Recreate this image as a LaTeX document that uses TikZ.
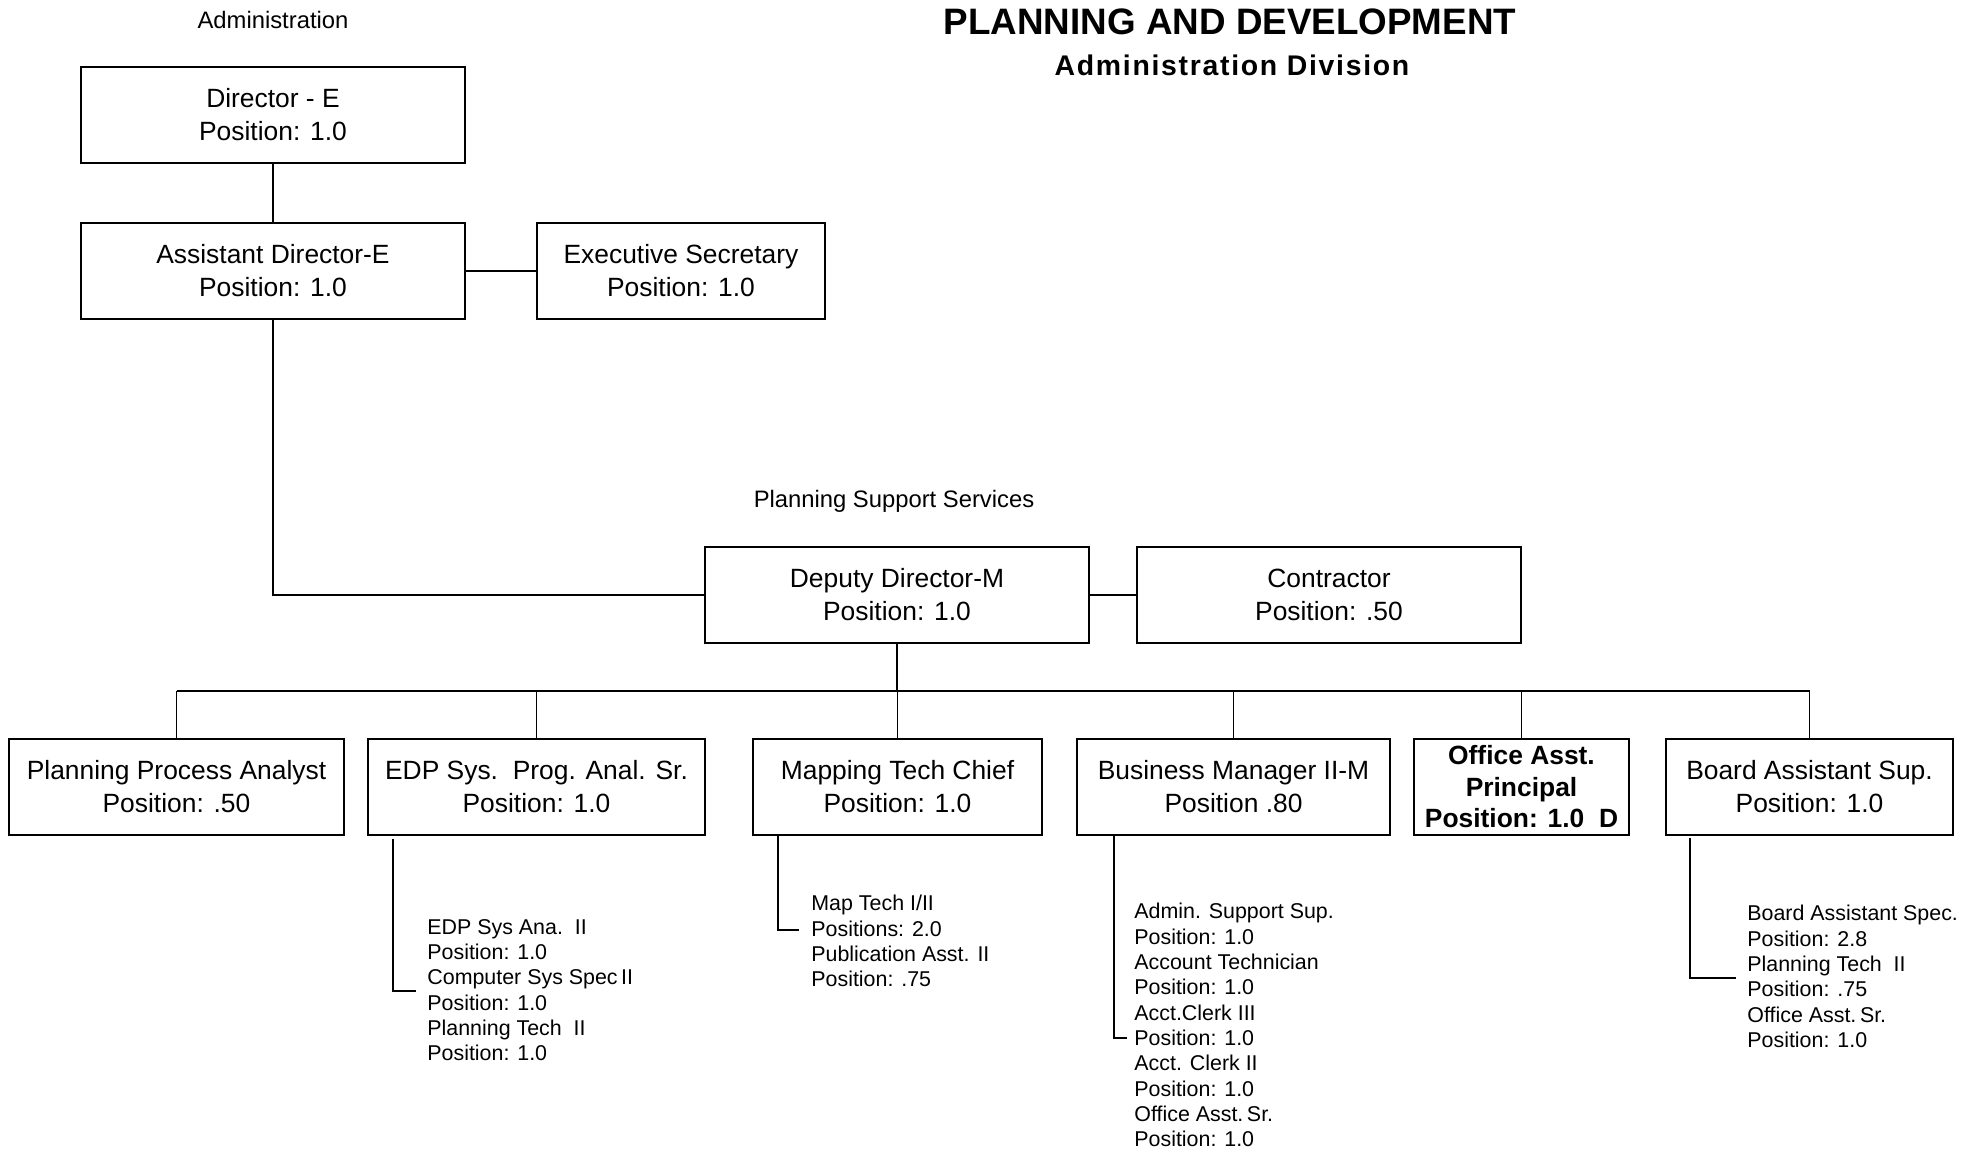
\documentclass[tikz,border=0pt]{standalone}
\usepackage{fontspec}
\setmainfont{Liberation Sans}
\newfontfamily\spacedbold[LetterSpace=6]{Liberation Sans}
\usetikzlibrary{calc}
\tikzset{
  box/.style={draw, line width=0.9pt, minimum height=48pt, inner sep=1pt, align=center,
    font=\fontsize{13.2}{16.5}\selectfont},
  boldbox/.style={box, font=\fontsize{13.2}{15.75}\selectfont\bfseries},
  conn/.style={line width=0.65pt},
  list/.style={anchor=north west, inner sep=0pt, align=left,
    font=\fontsize{10.7}{12.65}\selectfont},
  lbl/.style={inner sep=0pt, font=\fontsize{11.9}{13.5}\selectfont},
}
\begin{document}
\begin{tikzpicture}[x=0.5pt, y=-0.5pt]
\useasboundingbox (0,0) rectangle (1977,1150);

% labels and title
\node[lbl] (admlbl) at (273,19.5) {Administration};
\node[inner sep=0pt, font=\fontsize{18.4}{20}\selectfont\bfseries] (title) at (1230,22) {PLANNING AND DEVELOPMENT};
\node[inner sep=0pt, font=\fontsize{14.2}{16}\spacedbold\bfseries] (subtitle) at (1232,65) {Administration Division};
\node[lbl, anchor=base] (psslbl) at (894,507) {Planning Support Services};

% upper boxes
\node[box, minimum width=192pt] (dir) at (273,115) {Director - E\\Position: 1.0};
\node[box, minimum width=192pt] (asst) at (273,271) {Assistant Director-E\\Position: 1.0};
\node[box, minimum width=144pt] (exec) at (681,271) {Executive Secretary\\Position: 1.0};
\node[box, minimum width=192pt] (dep) at (897,595) {Deputy Director-M\\Position: 1.0};
\node[box, minimum width=192pt] (con) at (1329,595) {Contractor\\Position: .50};

% lower row
\node[box, minimum width=167.5pt] (ppa) at (176.5,787) {Planning Process Analyst\\Position: .50};
\node[box, minimum width=168.5pt] (edp) at (536.5,787) {EDP Sys.\ \ Prog. Anal. Sr.\\Position: 1.0};
\node[box, minimum width=144.5pt] (map) at (897.5,787) {Mapping Tech Chief\\Position: 1.0};
\node[box, minimum width=156.5pt] (bus) at (1233.5,787) {Business Manager II-M\\Position .80};
\node[boldbox, minimum width=107.5pt] (off) at (1521.5,787) {Office Asst.\\Principal\\Position: 1.0\ \ D};
\node[box, minimum width=143.5pt] (brd) at (1809.5,787) {Board Assistant Sup.\\Position: 1.0};

% connectors upper
\draw[conn] (dir.south) -- (asst.north);
\draw[conn] (asst.east) -- (exec.west);
\draw[conn] (asst.south) |- (dep.west);
\draw[conn] (dep.east) -- (con.west);

% bus
\coordinate (busy) at (0,691);
\draw[conn] (dep.south) -- (dep.south |- busy);
\draw[conn] (ppa.north |- busy) -- (brd.north |- busy);
\foreach \b in {ppa,edp,map,bus,off,brd}{
  \draw[conn] (\b.north) -- (\b.north |- busy);
}

% sub lists
\node[list] (edpl) at (427,919) {EDP Sys Ana.\ \ II\\Position: 1.0\\Computer Sys Spec\,II\\Position: 1.0\\Planning Tech\ \ II\\Position: 1.0};
\node[list] (mapl) at (811,895) {Map Tech I/II\\Positions: 2.0\\Publication Asst. II\\Position: .75};
\node[list] (busl) at (1134,903) {Admin. Support Sup.\\Position: 1.0\\Account Technician\\Position: 1.0\\Acct.Clerk III\\Position: 1.0\\Acct. Clerk II\\Position: 1.0\\Office Asst.\,Sr.\\Position: 1.0};
\node[list] (brdl) at (1747,905) {Board Assistant Spec.\\Position: 2.8\\Planning Tech\ \ II\\Position: .75\\Office Asst.\,Sr.\\Position: 1.0};

\coordinate (edpA) at (393,839);
\coordinate (edpB) at (416,991);
\coordinate (mapA) at (778,835);
\coordinate (mapB) at (799,930);
\coordinate (busA) at (1114,835);
\coordinate (busB) at (1127,1038);
\coordinate (brdA) at (1690,838);
\coordinate (brdB) at (1736,978);
\draw[conn] (edpA) |- (edpB);
\draw[conn] (mapA) |- (mapB);
\draw[conn] (busA) |- (busB);
\draw[conn] (brdA) |- (brdB);
\end{tikzpicture}
\end{document}
